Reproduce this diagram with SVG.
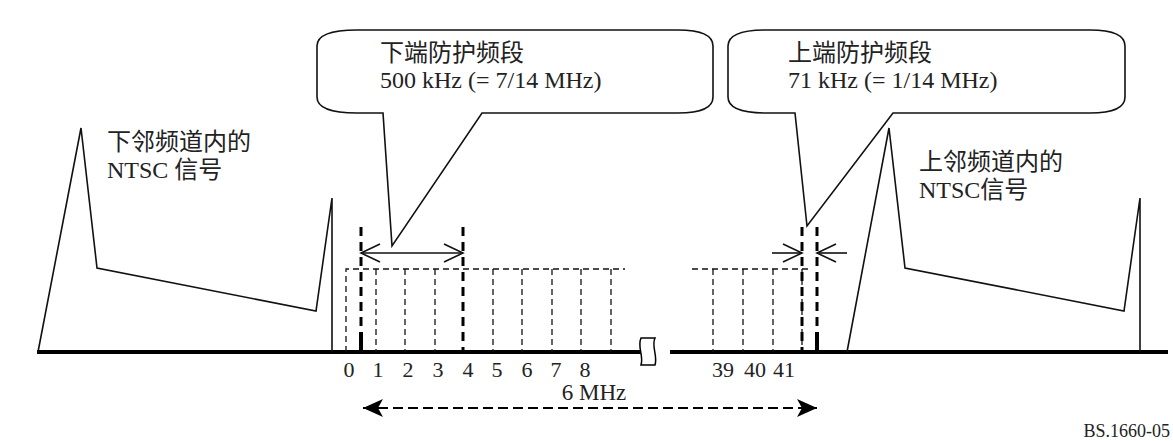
<svg xmlns="http://www.w3.org/2000/svg" width="1173" height="441" viewBox="0 0 1173 441">
<defs>
<style>
.ln{fill:none;stroke:#111;stroke-width:1.6;stroke-linejoin:miter}
.base{stroke:#000;stroke-width:4;fill:none}
.thin{stroke:#111;stroke-width:1.3;stroke-dasharray:6 4;fill:none}
.thick{stroke:#000;stroke-width:3;stroke-dasharray:9 6;fill:none}
.pilot{stroke:#000;stroke-width:4;fill:none}
.call{fill:none;stroke:#111;stroke-width:1.6}
.t{font-family:"Liberation Serif","Noto Sans CJK SC",serif;fill:#222}
.lab{font-size:24px}
.num{font-size:22px;text-anchor:middle}
</style>
<marker id="fh" viewBox="0 0 20 18" refX="20" refY="9" markerWidth="20" markerHeight="18" markerUnits="userSpaceOnUse" orient="auto-start-reverse">
<path d="M0,0 L20,9 L0,18 L5,9 Z" fill="#000"/>
</marker>
</defs>
<rect width="1173" height="441" fill="#fff"/>

<g id="axis">
<line class="base" x1="37" y1="352" x2="641" y2="352"/>
<line class="base" x1="670" y1="352" x2="1168" y2="352"/>
<path d="M641,338 L655,338 C651,346 658,356 655,365 L641,365 C644,356 637,347 641,338 Z" fill="#fff" stroke="#000" stroke-width="1.5"/>
</g>

<g id="ntsc-lower">
<polyline class="ln" points="38,352 81,128 97,268 316,311 332,198 332,352"/>
<text class="t lab" x="107" y="150">下邻频道内的</text>
<text class="t lab" x="107" y="178">NTSC 信号</text>
</g>

<g id="ntsc-upper">
<polyline class="ln" points="847,352 889,128 905,268 1124,311 1140,198 1140,352"/>
<text class="t lab" x="919" y="170">上邻频道内的</text>
<text class="t lab" x="919" y="198">NTSC信号</text>
</g>

<g id="subcarriers-low">
<polyline class="thin" points="346,352 346,269 625,269"/>
<line class="thin" x1="376" y1="269" x2="376" y2="352"/>
<line class="thin" x1="405" y1="269" x2="405" y2="352"/>
<line class="thin" x1="435" y1="269" x2="435" y2="352"/>
<line class="thin" x1="493" y1="269" x2="493" y2="352"/>
<line class="thin" x1="522" y1="269" x2="522" y2="352"/>
<line class="thin" x1="552" y1="269" x2="552" y2="352"/>
<line class="thin" x1="581" y1="269" x2="581" y2="352"/>
<line class="thin" x1="611" y1="269" x2="611" y2="352"/>
<line class="thick" x1="361" y1="227" x2="361" y2="352"/>
<line class="thick" x1="463" y1="227" x2="463" y2="352"/>
<line class="pilot" x1="361" y1="332" x2="361" y2="352"/>
</g>

<g id="subcarriers-high">
<polyline class="thin" points="692,269 810,269"/>
<line class="thin" x1="713" y1="269" x2="713" y2="352"/>
<line class="thin" x1="743" y1="269" x2="743" y2="352"/>
<line class="thin" x1="773" y1="269" x2="773" y2="352"/>
<line class="thin" x1="802" y1="269" x2="802" y2="352"/>
<line class="thick" x1="802" y1="227" x2="802" y2="352"/>
<line class="thick" x1="817" y1="227" x2="817" y2="352"/>
<line class="pilot" x1="817" y1="332" x2="817" y2="352"/>
</g>

<g id="numbers">
<text class="t num" x="349" y="377">0</text>
<text class="t num" x="378" y="377">1</text>
<text class="t num" x="408" y="377">2</text>
<text class="t num" x="438" y="377">3</text>
<text class="t num" x="468" y="377">4</text>
<text class="t num" x="497" y="377">5</text>
<text class="t num" x="527" y="377">6</text>
<text class="t num" x="556" y="377">7</text>
<text class="t num" x="585" y="377">8</text>
<text class="t num" x="723" y="377">39</text>
<text class="t num" x="755" y="377">40</text>
<text class="t num" x="784" y="377">41</text>
<text class="t" x="594" y="400" font-size="23" text-anchor="middle">6 MHz</text>
</g>

<g id="callout-lower">
<path class="call" d="M357,30 L678,30 Q713,30 713,46 L713,97 Q713,113 678,113 L482,113 L392,246 L383,113 L357,113 Q317,113 317,97 L317,46 Q317,30 357,30 Z"/>
<text class="t lab" x="380" y="61">下端防护频段</text>
<text class="t lab" x="380" y="88">500 kHz (= 7/14 MHz)</text>
</g>

<g id="callout-upper">
<path class="call" d="M766,30 L1090,30 Q1125,30 1125,46 L1125,97 Q1125,113 1090,113 L893,113 L807,226 L795,113 L766,113 Q728,113 728,97 L728,46 Q728,30 766,30 Z"/>
<text class="t lab" x="788" y="61">上端防护频段</text>
<text class="t lab" x="788" y="88">71 kHz (= 1/14 MHz)</text>
</g>

<g id="connectors">
<line class="ln" x1="361" y1="253" x2="463" y2="253"/>
<polyline class="ln" points="380,244 361,253 380,262"/>
<polyline class="ln" points="444,244 463,253 444,262"/>
<line class="ln" x1="772" y1="253" x2="802" y2="253"/>
<polyline class="ln" points="783,244 802,253 783,262"/>
<line class="ln" x1="847" y1="253" x2="817" y2="253"/>
<polyline class="ln" points="836,244 817,253 836,262"/>
<line x1="363" y1="408" x2="817" y2="408" stroke="#000" stroke-width="2" stroke-dasharray="10 5" marker-start="url(#fh)" marker-end="url(#fh)"/>
</g>

<text class="t" x="1170" y="437" font-size="18" text-anchor="end">BS.1660-05</text>
</svg>
